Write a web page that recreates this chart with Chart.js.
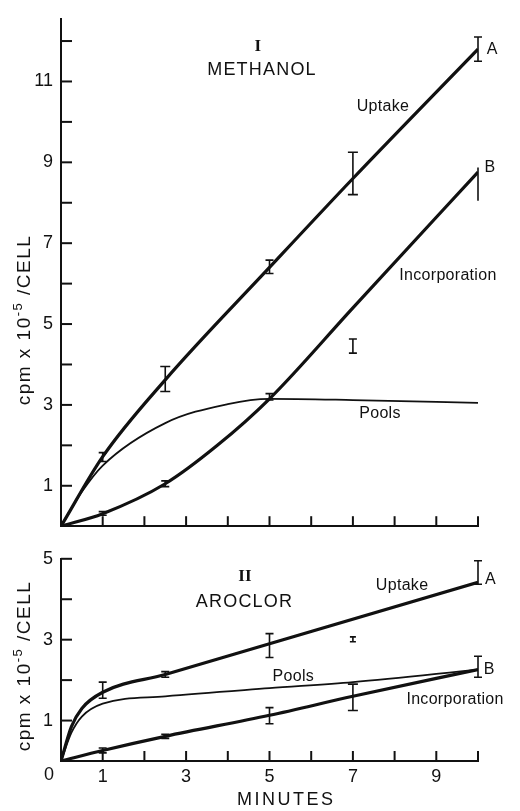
<!DOCTYPE html>
<html lang="en">
<head>
<meta charset="UTF-8">
<title>Methanol and Aroclor uptake</title>
<script src="https://cdn.jsdelivr.net/npm/chart.js"></script>
<style>
  body { margin: 0; background: #fff; }
  .panel { position: absolute; left: 0; width: 520px; }
  #topPanel { top: 0; height: 545px; }
  #bottomPanel { top: 540px; height: 271px; }
</style>
</head>
<body>

<div class="panel" id="topPanel"><canvas id="methanolChart"></canvas></div>
<div class="panel" id="bottomPanel"><canvas id="aroclorChart"></canvas></div>

<script>
  // Panel I - methanol (cpm x 10^-5 / cell vs minutes)
  const methUptakeMin = [0, 1, 2.5, 5, 7, 10];
  const methUptake = [0, 1.72, 3.62, 6.4, 8.6, 11.8];
  const methIncorpMin = [0, 1, 2.5, 3.75, 5, 7, 10];
  const methIncorp = [0, 0.31, 1.05, 2.0, 3.15, 5.4, 8.76];
  const methPoolsMin = [0, 0.5, 1, 2.5, 4, 5, 7, 10];
  const methPools = [0, 0.85, 1.5, 2.55, 3.02, 3.15, 3.12, 3.05];

  // error bars: minute, low, high, cap half-width
  const methBarMin = [1, 2.5, 5, 7, 10, 1, 2.5, 5, 7, 10];
  const methBarLow = [1.6, 3.33, 6.25, 8.2, 11.5, 0.27, 0.98, 3.12, 4.28, 8.05];
  const methBarHigh = [1.82, 3.95, 6.58, 9.25, 12.1, 0.36, 1.12, 3.28, 4.63, 8.87];
  const methBarCap = [4, 5, 4, 5, 4, 4, 4, 4, 4, 0];

  const methLabels = ['METHANOL', 'Uptake', 'A', 'B', 'Incorporation', 'Pools'];
  const methLabelMin = [4.82, 7.72, 10.34, 10.29, 9.28, 7.65];
  const methLabelVal = [11.28, 10.38, 11.8, 8.87, 6.19, 2.79];

  // Panel II - aroclor
  const aroUptakeMin = [0, 0.25, 0.5, 1, 2.5, 5, 10];
  const aroUptake = [0, 0.85, 1.3, 1.7, 2.14, 2.9, 4.42];
  const aroIncorpMin = [0, 1, 2.5, 5, 7, 10];
  const aroIncorp = [0, 0.26, 0.61, 1.13, 1.6, 2.26];
  const aroPoolsMin = [0, 0.25, 0.5, 1, 2.5, 5, 7, 10];
  const aroPools = [0, 0.7, 1.1, 1.42, 1.6, 1.8, 1.95, 2.26];

  const aroBarMin = [1, 2.5, 5, 10, 7, 1, 2.5, 5, 7, 10];
  const aroBarLow = [1.55, 2.07, 2.56, 4.37, 2.95, 0.2, 0.56, 0.92, 1.25, 2.07];
  const aroBarHigh = [1.95, 2.21, 3.15, 4.95, 3.07, 0.32, 0.66, 1.32, 1.9, 2.59];
  const aroBarCap = [4, 4, 4, 4, 3, 4, 4, 4, 5, 4];

  const aroLabels = ['AROCLOR', 'Uptake', 'A', 'Pools', 'B', 'Incorporation'];
  const aroLabelMin = [4.4, 8.18, 10.3, 5.57, 10.27, 9.45];
  const aroLabelVal = [3.92, 4.33, 4.49, 2.09, 2.26, 1.53];

  const INK = '#111';
  const SANS = '"Liberation Sans", Arial, sans-serif';
  const SERIF = '"Liberation Serif", serif';

  function points(xs, ys) {
    return xs.map((x, i) => ({ x: x, y: ys[i] }));
  }

  function curve(xs, ys, width) {
    return {
      data: points(xs, ys),
      borderColor: INK,
      borderWidth: width,
      pointRadius: 0,
      fill: false,
      cubicInterpolationMode: 'monotone'
    };
  }

  // draws inward ticks, error bars, text labels and axis titles
  const figurePlugin = {
    id: 'figure',
    afterDatasetsDraw(chart, args, opts) {
      const { ctx, chartArea } = chart;
      const x = chart.scales.x, y = chart.scales.y;
      ctx.save();
      ctx.strokeStyle = INK;
      ctx.fillStyle = INK;

      ctx.lineWidth = 2;
      for (let v = 1; v <= x.max; v++) {
        const px = x.getPixelForValue(v);
        ctx.beginPath();
        ctx.moveTo(px, chartArea.bottom);
        ctx.lineTo(px, chartArea.bottom - 10);
        ctx.stroke();
      }
      for (let v = 1; v <= Math.floor(y.max); v++) {
        const py = y.getPixelForValue(v);
        ctx.beginPath();
        ctx.moveTo(chartArea.left, py);
        ctx.lineTo(chartArea.left + 11, py);
        ctx.stroke();
      }

      ctx.lineWidth = 1.6;
      opts.barMin.forEach((m, i) => {
        const px = x.getPixelForValue(m);
        const lo = y.getPixelForValue(opts.barLow[i]);
        const hi = y.getPixelForValue(opts.barHigh[i]);
        const c = opts.barCap[i];
        ctx.beginPath();
        ctx.moveTo(px, lo);
        ctx.lineTo(px, hi);
        if (c > 0) {
          ctx.moveTo(px - c, lo); ctx.lineTo(px + c, lo);
          ctx.moveTo(px - c, hi); ctx.lineTo(px + c, hi);
        }
        ctx.stroke();
      });

      ctx.textAlign = 'center';
      ctx.textBaseline = 'middle';
      ctx.font = 'bold 17px ' + SERIF;
      ctx.fillText(opts.numeral, x.getPixelForValue(opts.numeralMin), y.getPixelForValue(opts.numeralVal));

      opts.labels.forEach((t, i) => {
        const big = t === t.toUpperCase() && t.length > 1;
        ctx.font = (big ? '18px ' : '16px ') + SANS;
        ctx.letterSpacing = big ? '1.2px' : '0.3px';
        ctx.fillText(t, x.getPixelForValue(opts.labelMin[i]), y.getPixelForValue(opts.labelVal[i]));
      });

      // y axis title, rotated
      ctx.save();
      ctx.translate(25, y.getPixelForValue(opts.titleVal));
      ctx.rotate(-Math.PI / 2);
      ctx.letterSpacing = '1.5px';
      const a = 'cpm x 10', sup = '-5', b = ' /CELL';
      ctx.font = '19px ' + SANS;
      const wa = ctx.measureText(a).width, wb = ctx.measureText(b).width;
      ctx.font = '13px ' + SANS;
      const ws = ctx.measureText(sup).width;
      const start = -(wa + ws + wb) / 2;
      ctx.textAlign = 'left';
      ctx.font = '19px ' + SANS;
      ctx.fillText(a, start, 0);
      ctx.font = '13px ' + SANS;
      ctx.fillText(sup, start + wa, -7);
      ctx.font = '19px ' + SANS;
      ctx.fillText(b, start + wa + ws, 0);
      ctx.restore();

      if (opts.xTitle) {
        ctx.font = '18px ' + SANS;
        ctx.letterSpacing = '2.5px';
        ctx.textAlign = 'center';
        ctx.fillText(opts.xTitle, x.getPixelForValue(5.4), chartArea.bottom + 39);
        ctx.letterSpacing = '0px';
        ctx.fillText('0', x.getPixelForValue(0) - 12, chartArea.bottom + 14);
      }
      ctx.restore();
    }
  };

  function makeChart(id, datasets, yMax, showXLabels, pad, xHeight, extra) {
    return new Chart(document.getElementById(id), {
      type: 'line',
      data: { datasets: datasets },
      options: {
        responsive: true,
        maintainAspectRatio: false,
        animation: false,
        layout: { padding: pad },
        plugins: { legend: { display: false }, tooltip: { enabled: false }, figure: extra },
        scales: {
          x: {
            type: 'linear', min: 0, max: 10,
            grid: { display: false, drawTicks: false },
            border: { display: true, color: INK, width: 2 },
            ticks: {
              display: showXLabels, stepSize: 1, padding: 5, color: INK,
              font: { size: 18, family: SANS },
              callback: v => (v % 2 === 1 ? v : '')
            },
            afterFit: s => { s.height = xHeight; }
          },
          y: {
            min: 0, max: yMax,
            grid: { display: false, drawTicks: false },
            border: { display: true, color: INK, width: 2 },
            ticks: {
              stepSize: 1, padding: 8, color: INK,
              font: { size: 18, family: SANS },
              callback: v => (v % 2 === 1 ? v : '')
            },
            afterFit: s => { s.width = 61; }
          }
        }
      },
      plugins: [figurePlugin]
    });
  }

  makeChart('methanolChart', [
    curve(methUptakeMin, methUptake, 3.2),
    curve(methIncorpMin, methIncorp, 3.2),
    curve(methPoolsMin, methPools, 1.8)
  ], 12.55, false, { top: 8, right: 42, left: 0, bottom: 0 }, 7, {
    barMin: methBarMin, barLow: methBarLow, barHigh: methBarHigh, barCap: methBarCap,
    labels: methLabels, labelMin: methLabelMin, labelVal: methLabelVal,
    numeral: 'I', numeralMin: 4.72, numeralVal: 11.85, titleVal: 5.1
  });

  makeChart('aroclorChart', [
    curve(aroUptakeMin, aroUptake, 3.2),
    curve(aroIncorpMin, aroIncorp, 3.2),
    curve(aroPoolsMin, aroPools, 1.8)
  ], 5, true, { top: 8, right: 42, left: 0, bottom: 0 }, 50, {
    barMin: aroBarMin, barLow: aroBarLow, barHigh: aroBarHigh, barCap: aroBarCap,
    labels: aroLabels, labelMin: aroLabelMin, labelVal: aroLabelVal,
    numeral: 'II', numeralMin: 4.41, numeralVal: 4.56, titleVal: 2.35,
    xTitle: 'MINUTES'
  });
</script>

</body>
</html>
